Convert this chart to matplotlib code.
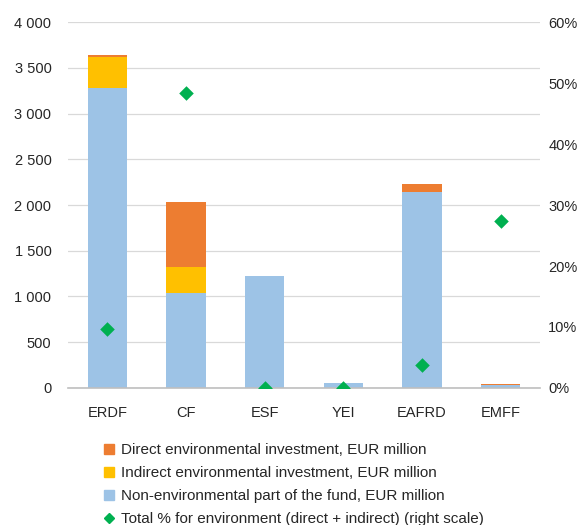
import matplotlib

matplotlib.use("Agg")
import matplotlib.pyplot as plt
from matplotlib.lines import Line2D
from matplotlib.ticker import FuncFormatter

# fund categories and values (EUR million / percent)
funds = ["ERDF", "CF", "ESF", "YEI", "EAFRD", "EMFF"]
non_env = [3280, 1040, 1225, 55, 2145, 32]
indirect = [340, 285, 0, 0, 0, 0]
direct = [20, 710, 0, 0, 85, 15]
total_pct = [9.7, 48.4, 0.0, 0.0, 3.8, 27.4]

C_DIRECT = "#ED7D31"
C_INDIRECT = "#FFC000"
C_NONENV = "#9DC3E6"
C_GREEN = "#00B050"

plt.rcParams.update({
    "font.family": ["Liberation Sans", "DejaVu Sans"],
    "font.size": 10.5,
})

fig = plt.figure(figsize=(5.87, 5.25), dpi=100)
ax = fig.add_axes([0.116, 0.261, 0.804, 0.697])

x = list(range(len(funds)))
w = 0.5
bottom2 = [a + b for a, b in zip(non_env, indirect)]
ax.bar(x, non_env, w, color=C_NONENV, zorder=2)
ax.bar(x, indirect, w, bottom=non_env, color=C_INDIRECT, zorder=2)
ax.bar(x, direct, w, bottom=bottom2, color=C_DIRECT, zorder=2)

ax.set_xlim(-0.5, len(funds) - 0.5)
ax.set_ylim(0, 4000)
ax.set_yticks(range(0, 4001, 500))
ax.yaxis.set_major_formatter(FuncFormatter(lambda v, p: f"{int(v):,}".replace(",", " ")))
ax.set_xticks(x)
ax.set_xticklabels(funds)
ax.grid(axis="y", color="#D9D9D9", lw=0.9, zorder=0)
for s in ["top", "right", "left"]:
    ax.spines[s].set_visible(False)
ax.spines["bottom"].set_color("#BFBFBF")
ax.spines["bottom"].set_linewidth(1.2)
ax.tick_params(axis="both", length=0, colors="#262626", labelsize=10.5)
ax.tick_params(axis="y", pad=12)
ax.tick_params(axis="x", pad=13)

ax2 = ax.twinx()
ax2.set_ylim(0, 60)
ax2.set_yticks(range(0, 61, 10))
ax2.yaxis.set_major_formatter(FuncFormatter(lambda v, p: f"{int(v)}%"))
ax2.scatter(x, total_pct, marker="D", s=55, color=C_GREEN, zorder=5, linewidths=0)
for s in ["top", "right", "left", "bottom"]:
    ax2.spines[s].set_visible(False)
ax2.tick_params(axis="y", length=0, colors="#262626", labelsize=10.5, pad=6)

handles = [
    Line2D([], [], ls="", marker="s", ms=7, color=C_DIRECT),
    Line2D([], [], ls="", marker="s", ms=7, color=C_INDIRECT),
    Line2D([], [], ls="", marker="s", ms=7, color=C_NONENV),
    Line2D([], [], ls="", marker="D", ms=5, color=C_GREEN),
]
labels = [
    "Direct environmental investment, EUR million",
    "Indirect environmental investment, EUR million",
    "Non-environmental part of the fund, EUR million",
    "Total % for environment (direct + indirect) (right scale)",
]
fig.legend(handles, labels, loc="upper left", bbox_to_anchor=(0.165, 0.168),
           frameon=False, handlelength=0.8, handletextpad=0.4,
           labelspacing=0.6, borderaxespad=0, fontsize=11,
           labelcolor="#262626")

fig.savefig("out.png", dpi=100)
